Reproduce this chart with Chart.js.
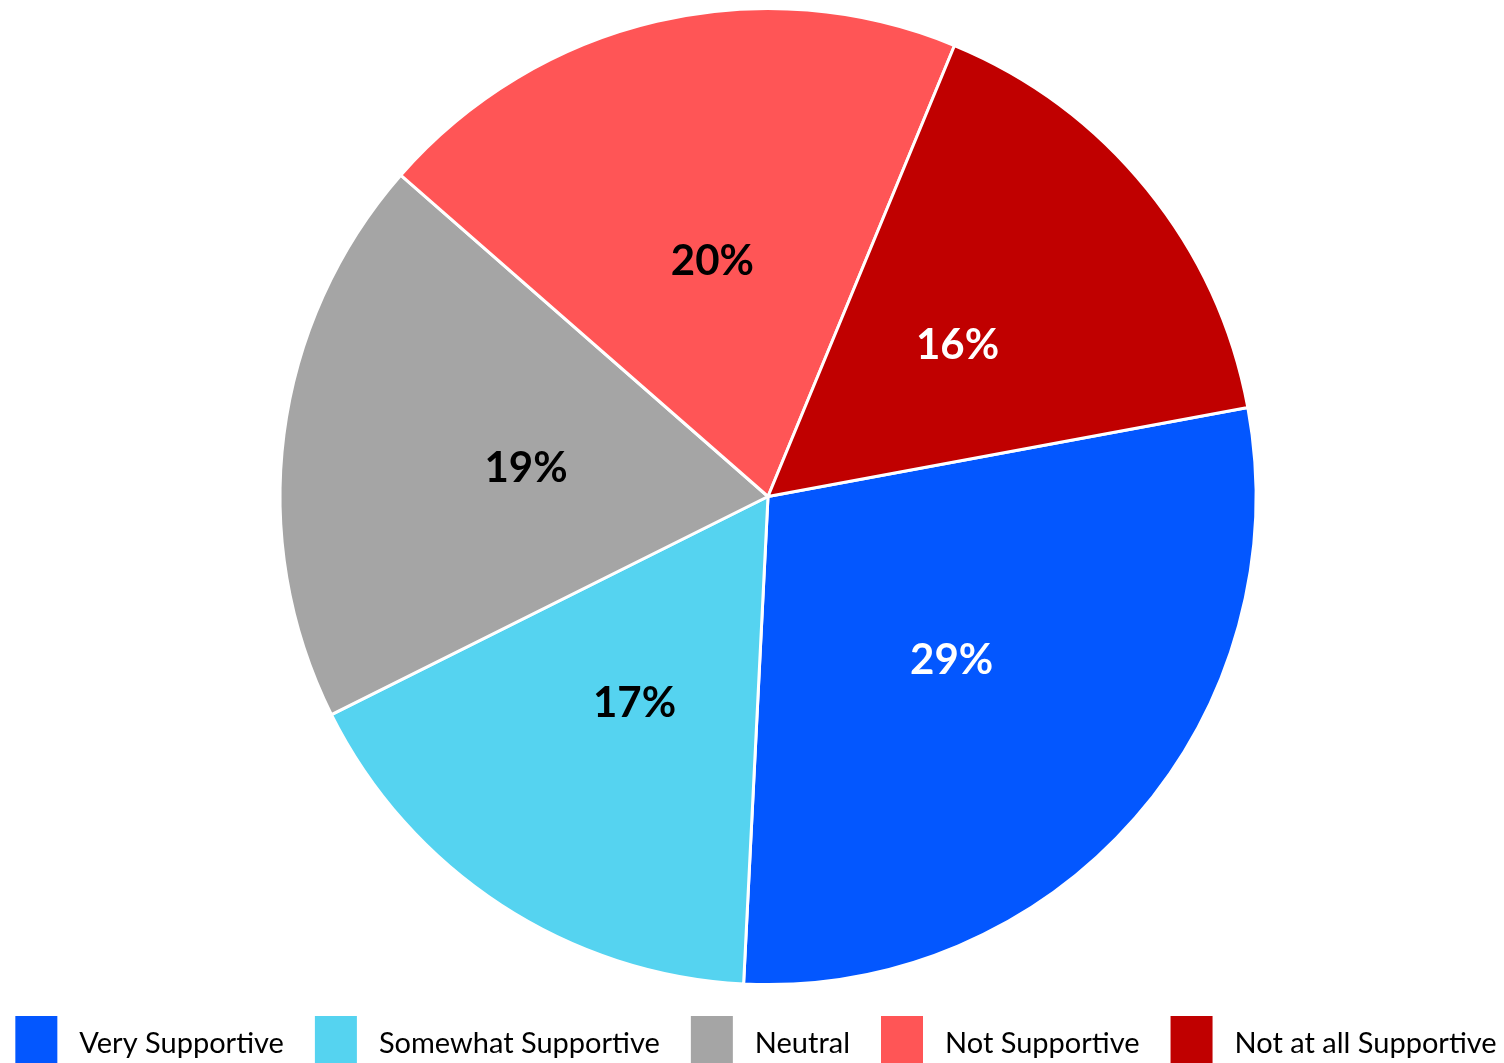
<!DOCTYPE html>
<html>
<head>
<meta charset="utf-8">
<script src="https://cdn.jsdelivr.net/npm/chart.js@4"></script>
<style>
  html, body { margin: 0; padding: 0; background: #fff; overflow: hidden; }
  #wrap { width: 1504px; height: 1063px; position: relative; }
</style>
</head>
<body>
<div id="wrap"><canvas id="myChart"></canvas></div>
<script>
const categories = ["Very Supportive", "Somewhat Supportive", "Neutral", "Not Supportive", "Not at all Supportive"];
const shares = [29, 17, 19, 20, 16];
const sliceColors = ["#0357FF", "#55D3F0", "#A5A5A5", "#FF5556", "#C00000"];
const labelColors = ["#FFFFFF", "#000000", "#000000", "#000000", "#FFFFFF"];

// percent labels in the middle of each slice
const sliceLabels = {
  id: "sliceLabels",
  afterDatasetsDraw(chart) {
    const ctx = chart.ctx;
    const meta = chart.getDatasetMeta(0);
    ctx.save();
    ctx.font = "bold 42px Lato";
    ctx.textAlign = "center";
    ctx.textBaseline = "middle";
    meta.data.forEach((arc, i) => {
      const pos = arc.tooltipPosition();
      ctx.fillStyle = labelColors[i];
      ctx.fillText(shares[i] + "%", pos.x, pos.y + 3);
    });
    ctx.restore();
  },
};

// single-row legend along the bottom edge, tall boxes running off the canvas
const bottomLegend = {
  id: "bottomLegend",
  afterDraw(chart) {
    const ctx = chart.ctx;
    const boxW = 42, boxH = 54, textGap = 22, itemGap = 31;
    const top = 1016;
    ctx.save();
    ctx.font = "29px Lato";
    ctx.textBaseline = "middle";
    ctx.textAlign = "left";
    const widths = categories.map((c) => ctx.measureText(c).width);
    const total = widths.reduce((s, w) => s + boxW + textGap + w, 0) + itemGap * (categories.length - 1);
    let x = 756 - total / 2;
    categories.forEach((c, i) => {
      ctx.fillStyle = sliceColors[i];
      ctx.fillRect(x, top, boxW, boxH);
      ctx.fillStyle = "#000";
      ctx.fillText(c, x + boxW + textGap, top + 28);
      x += boxW + textGap + widths[i] + itemGap;
    });
    ctx.restore();
  },
};

const config = {
  type: "pie",
  data: {
    labels: categories,
    datasets: [
      {
        data: shares,
        backgroundColor: sliceColors,
        borderColor: "#FFFFFF",
        borderWidth: 3,
      },
    ],
  },
  options: {
    responsive: true,
    maintainAspectRatio: false,
    animation: false,
    rotation: 79.5,
    layout: {
      padding: { top: 7, left: 32, right: 0, bottom: 77 },
    },
    plugins: {
      tooltip: { enabled: false },
      legend: { display: false },
    },
  },
  plugins: [sliceLabels, bottomLegend],
};

let myChart = new Chart(document.getElementById("myChart"), config);
</script>
</body>
</html>
